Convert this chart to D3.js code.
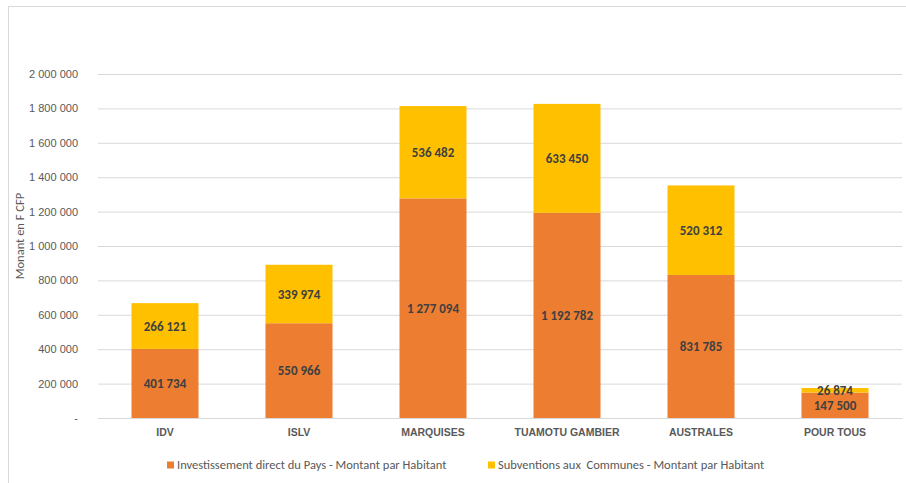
<!DOCTYPE html>
<html>
<head>
<meta charset="utf-8">
<script src="https://cdn.jsdelivr.net/npm/d3@7"></script>
<style>
  html, body { margin: 0; padding: 0; background: #fff; }
  svg { display: block; font-family: Carlito, Lato, "Open Sans", sans-serif; }
</style>
</head>
<body>
<svg id="chart" width="906" height="483"></svg>
<script>
// Archipels et montants par habitant (F CFP)
const categories = ["IDV", "ISLV", "MARQUISES", "TUAMOTU GAMBIER", "AUSTRALES", "POUR TOUS"];
const investissement = [401734, 550966, 1277094, 1192782, 831785, 147500];
const subventions = [266121, 339974, 536482, 633450, 520312, 26874];
const seriesNames = ["Investissement direct du Pays - Montant par Habitant", "Subventions aux  Communes - Montant par Habitant"];
const yTicks = [0, 200000, 400000, 600000, 800000, 1000000, 1200000, 1400000, 1600000, 1800000, 2000000];
const yTitle = "Monant en F CFP";

const colors = ["#ED7D31", "#FFC000"];
const svg = d3.select("#chart");
const W = 906, H = 483;
const plot = { left: 98, right: 902, top: 74, bottom: 418 };

// Cadre du graphique
svg.append("rect").attr("x", 8.5).attr("y", 6.5).attr("width", W + 10).attr("height", H + 10)
  .attr("fill", "#fff").attr("stroke", "#d9d9d9").attr("stroke-width", 1);

const x = d3.scaleBand().domain(categories).range([plot.left, plot.right]).paddingInner(0.5).paddingOuter(0.25);
const y = d3.scaleLinear().domain([0, 2000000]).range([plot.bottom, plot.top]);

const fmt = v => v === 0 ? "-" : d3.format(",")(v).replace(/,/g, " ");

// Grille et graduations
const yAxis = d3.axisLeft(y).tickValues(yTicks).tickSize(-(plot.right - plot.left)).tickPadding(20).tickFormat(fmt);
const gy = svg.append("g").attr("transform", `translate(${plot.left},0)`).call(yAxis);
gy.select(".domain").remove();
gy.selectAll(".tick line").attr("stroke", "#d9d9d9").attr("stroke-width", 1);
gy.selectAll(".tick text").attr("fill", "#595959").style("font-size", "11px");

// Axe des catégories
const xAxis = d3.axisBottom(x).tickSize(0).tickPadding(11);
const gx = svg.append("g").attr("transform", `translate(0,${plot.bottom})`).call(xAxis);
gx.select(".domain").attr("stroke", "#d9d9d9");
gx.selectAll(".tick text").attr("fill", "#595959").style("font-size", "10.5px").style("font-weight", "bold");

// Barres empilées
const rows = categories.map((c, i) => ({ cat: c, investissement: investissement[i], subventions: subventions[i] }));
const stacked = d3.stack().keys(["investissement", "subventions"])(rows);

const layers = svg.append("g").selectAll("g").data(stacked).join("g").attr("fill", (d, i) => colors[i]);
layers.selectAll("rect").data(d => d).join("rect")
  .attr("x", d => x(d.data.cat))
  .attr("width", x.bandwidth())
  .attr("y", d => y(d[1]))
  .attr("height", d => y(d[0]) - y(d[1]));

// Étiquettes de valeurs
layers.selectAll("text").data((d, i) => d.map(p => ({ p, key: d.key })))
  .join("text")
  .attr("x", d => x(d.p.data.cat) + x.bandwidth() / 2)
  .attr("y", d => (y(d.p[0]) + y(d.p[1])) / 2)
  .attr("dy", "0.35em")
  .attr("text-anchor", "middle")
  .attr("fill", "#404040")
  .style("font-size", "13px")
  .style("font-weight", "bold")
  .text(d => fmt(d.p.data[d.key]));

// Titre de l'axe vertical
svg.append("text")
  .attr("transform", `translate(20,${(plot.top + plot.bottom) / 2 - 10}) rotate(-90)`)
  .attr("text-anchor", "middle")
  .attr("dy", "0.35em")
  .attr("fill", "#595959")
  .style("font-size", "12.5px")
  .text(yTitle);

// Légende
const legendX = [167, 488];
const legend = svg.append("g").selectAll("g").data(seriesNames).join("g")
  .attr("transform", (d, i) => `translate(${legendX[i]},465)`);
legend.append("rect").attr("x", 0).attr("y", -3.5).attr("width", 7).attr("height", 7).attr("fill", (d, i) => colors[i]);
legend.append("text").attr("x", 10).attr("y", 0).attr("dy", "0.35em")
  .attr("fill", "#595959").style("font-size", "12.5px").style("white-space", "pre").text(d => d);
</script>
</body>
</html>
